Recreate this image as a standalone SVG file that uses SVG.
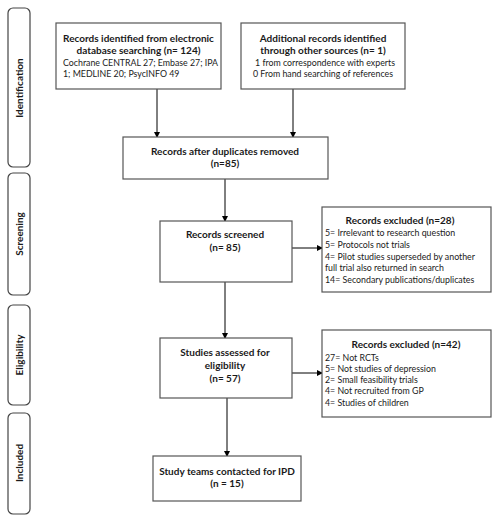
<svg xmlns="http://www.w3.org/2000/svg" width="499" height="522" viewBox="0 0 499 522">
<style>
.box{fill:#fff;stroke:#555;stroke-width:1.2}
.phase{fill:#fff;stroke:#444;stroke-width:1.2}
text{font-family:Lato,"Open Sans","Liberation Sans",sans-serif;fill:#1a1a1a}
.b{font-weight:bold;font-size:10px}
.n{font-size:8.8px}
.c{text-anchor:middle}
.pl{font-weight:bold;font-size:10px;text-anchor:middle}
.con{stroke:#000;stroke-width:1;fill:none;marker-end:url(#ah)}
</style>
<defs>
<marker id="ah" markerWidth="6" markerHeight="6" refX="5" refY="3" orient="auto" markerUnits="userSpaceOnUse">
<path d="M0,0 L6,3 L0,6 Z" fill="#000"/>
</marker>
</defs>
<rect width="499" height="522" fill="#fff"/>
<g id="phase-identification"><rect class="phase" x="8" y="8" width="22" height="159" rx="5"/><text class="pl" transform="translate(23,88) rotate(-90)">Identification</text></g>
<g id="phase-screening"><rect class="phase" x="8" y="173" width="22" height="122" rx="5"/><text class="pl" transform="translate(23,234) rotate(-90)">Screening</text></g>
<g id="phase-eligibility"><rect class="phase" x="8" y="305" width="22" height="100" rx="5"/><text class="pl" transform="translate(23,355) rotate(-90)">Eligibility</text></g>
<g id="phase-included"><rect class="phase" x="8" y="413" width="22" height="101" rx="5"/><text class="pl" transform="translate(23,463) rotate(-90)">Included</text></g>
<g id="connectors">
<line class="con" x1="157" y1="89" x2="157" y2="137"/>
<line class="con" x1="293" y1="89" x2="293" y2="137"/>
<line class="con" x1="225" y1="179" x2="225" y2="221"/>
<line class="con" x1="292" y1="248" x2="322" y2="248"/>
<line class="con" x1="225" y1="282" x2="225" y2="338"/>
<line class="con" x1="292" y1="373" x2="322" y2="373"/>
<line class="con" x1="227" y1="398" x2="227" y2="456"/>
</g>
<g id="node-database">
<rect class="box" x="56" y="23" width="165" height="66"/>
<text class="b c" x="138.5" y="42">Records identified from electronic</text>
<text class="b c" x="138.5" y="54">database searching (n= 124)</text>
<text class="n" x="63" y="66">Cochrane CENTRAL 27; Embase 27; IPA</text>
<text class="n" x="63" y="77">1; MEDLINE 20; PsycINFO 49</text>
</g>
<g id="node-other">
<rect class="box" x="241" y="23" width="164" height="66"/>
<text class="b c" x="323" y="42">Additional records identified</text>
<text class="b c" x="323" y="54">through other sources (n= 1)</text>
<text class="n c" x="325" y="66">1 from correspondence with experts</text>
<text class="n c" x="323" y="77">0 From hand searching of references</text>
</g>
<g id="node-duplicates">
<rect class="box" x="123" y="137" width="205" height="42"/>
<text class="b c" x="225" y="154.5">Records after duplicates removed</text>
<text class="b c" x="225" y="167">(n=85)</text>
</g>
<g id="node-screened">
<rect class="box" x="160" y="221" width="132" height="61"/>
<text class="b c" x="225" y="238">Records screened</text>
<text class="b c" x="225" y="251">(n= 85)</text>
</g>
<g id="node-excluded1">
<rect class="box" x="322" y="207" width="169" height="85"/>
<text class="b c" x="400" y="224">Records excluded (n=28)</text>
<text class="n" x="325" y="236">5= Irrelevant to research question</text>
<text class="n" x="325" y="248">5= Protocols not trials</text>
<text class="n" x="325" y="260">4= Pilot studies superseded by another</text>
<text class="n" x="325" y="271">full trial also returned in search</text>
<text class="n" x="325" y="283">14= Secondary publications/duplicates</text>
</g>
<g id="node-eligibility">
<rect class="box" x="160" y="338" width="132" height="60"/>
<text class="b c" x="225" y="355.5">Studies assessed for</text>
<text class="b c" x="225" y="368.5">eligibility</text>
<text class="b c" x="225" y="381.5">(n= 57)</text>
</g>
<g id="node-excluded2">
<rect class="box" x="322" y="330" width="169" height="87"/>
<text class="b c" x="406" y="348">Records excluded (n=42)</text>
<text class="n" x="325" y="360.5">27= Not RCTs</text>
<text class="n" x="325" y="371.5">5= Not studies of depression</text>
<text class="n" x="325" y="383">2= Small feasibility trials</text>
<text class="n" x="325" y="394">4= Not recruited from GP</text>
<text class="n" x="325" y="405.5">4= Studies of children</text>
</g>
<g id="node-included">
<rect class="box" x="153" y="456" width="148" height="45"/>
<text class="b c" x="227" y="474.5">Study teams contacted for IPD</text>
<text class="b c" x="227" y="487">(n = 15)</text>
</g>
</svg>
